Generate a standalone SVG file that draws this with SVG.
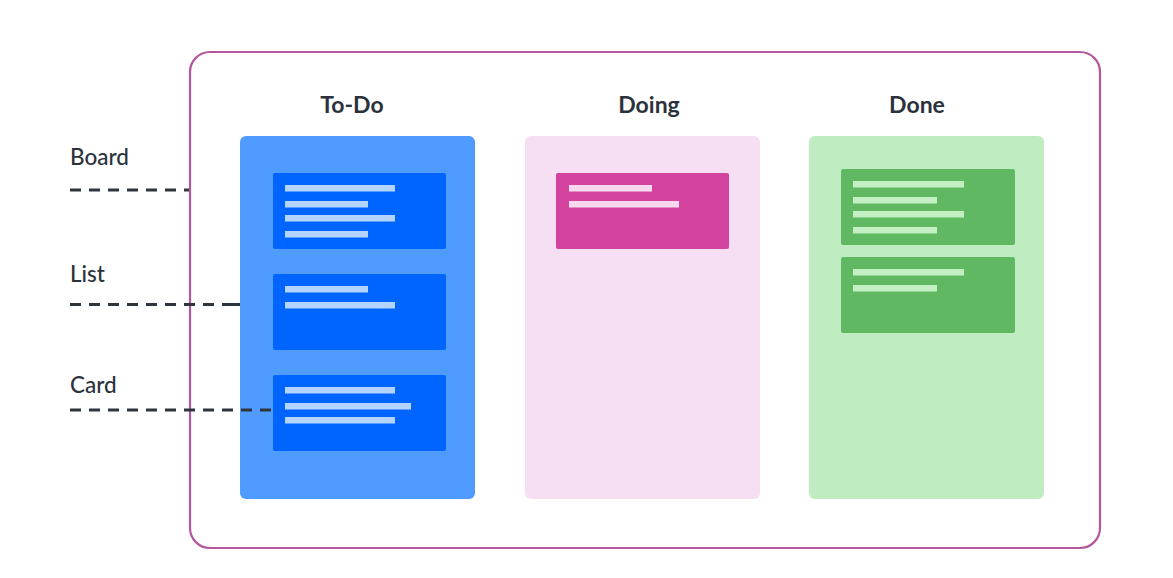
<svg xmlns="http://www.w3.org/2000/svg" width="1173" height="578" viewBox="0 0 1173 578">
<style>
.lbl{font-family:Lato,"Noto Sans",sans-serif;font-size:22.5px;fill:#2b323c;font-weight:500}
.ttl{font-family:Lato,"Noto Sans",sans-serif;font-size:23px;fill:#2b323c;font-weight:700;text-anchor:middle}
.dash{stroke:#2f353d;stroke-width:2.8;stroke-dasharray:11 8;fill:none}
.todo{fill:#4f9bff}.todoc{fill:#0065ff}.todol{fill:#b3d4ff}
.doing{fill:#f6def3}.doingc{fill:#d442a0}.doingl{fill:#f7d9ef}
.done{fill:#c0ecc1}.donec{fill:#60b962}.donel{fill:#c3efc3}
</style>
<rect width="1173" height="578" fill="#ffffff"/>
<g id="board">
<rect x="190" y="52" width="910" height="496" rx="20" fill="#fff" stroke="#b5579c" stroke-width="2.2"/>
</g>
<g id="list-todo">
<text class="ttl" x="352" y="113">To-Do</text>
<rect class="todo" x="240" y="136" width="235" height="363" rx="6"/>
</g>
<g id="card-todo-1">
<rect class="todoc" x="273" y="173" width="173" height="76" rx="2"/>
<rect class="todol" x="285" y="185" width="110" height="6.5"/>
<rect class="todol" x="285" y="201" width="83" height="6.5"/>
<rect class="todol" x="285" y="215" width="110" height="6.5"/>
<rect class="todol" x="285" y="231" width="83" height="6.5"/>
</g>
<g id="card-todo-2">
<rect class="todoc" x="273" y="274" width="173" height="76" rx="2"/>
<rect class="todol" x="285" y="286" width="83" height="6.5"/>
<rect class="todol" x="285" y="302" width="110" height="6.5"/>
</g>
<g id="card-todo-3">
<rect class="todoc" x="273" y="375" width="173" height="76" rx="2"/>
<rect class="todol" x="285" y="387" width="110" height="6.5"/>
<rect class="todol" x="285" y="403" width="126" height="6.5"/>
<rect class="todol" x="285" y="417" width="110" height="6.5"/>
</g>
<g id="list-doing">
<text class="ttl" x="649" y="113">Doing</text>
<rect class="doing" x="525" y="136" width="235" height="363" rx="6"/>
</g>
<g id="card-doing-1">
<rect class="doingc" x="556" y="173" width="173" height="76" rx="2"/>
<rect class="doingl" x="569" y="185" width="83" height="6.5"/>
<rect class="doingl" x="569" y="201" width="110" height="6.5"/>
</g>
<g id="list-done">
<text class="ttl" x="917" y="113">Done</text>
<rect class="done" x="809" y="136" width="235" height="363" rx="6"/>
</g>
<g id="card-done-1">
<rect class="donec" x="841" y="169" width="174" height="76" rx="2"/>
<rect class="donel" x="853" y="181" width="111" height="6.5"/>
<rect class="donel" x="853" y="197" width="84" height="6.5"/>
<rect class="donel" x="853" y="211" width="111" height="6.5"/>
<rect class="donel" x="853" y="227" width="84" height="6.5"/>
</g>
<g id="card-done-2">
<rect class="donec" x="841" y="257" width="174" height="76" rx="2"/>
<rect class="donel" x="853" y="269" width="111" height="6.5"/>
<rect class="donel" x="853" y="285" width="84" height="6.5"/>
</g>
<g id="label-board"><text class="lbl" x="70" y="165">Board</text></g>
<g id="label-list"><text class="lbl" x="70" y="282">List</text></g>
<g id="label-card"><text class="lbl" x="70" y="393">Card</text></g>
<g id="connectors">
<line class="dash" x1="70" y1="190" x2="189" y2="190"/>
<line class="dash" x1="70" y1="304.5" x2="240" y2="304.5" style="stroke-dasharray:11 8 11 8 11 8 11 8 11 8 11 8 11 8 11 8 18"/>
<line class="dash" x1="70" y1="410" x2="273" y2="410"/>
</g>
</svg>
